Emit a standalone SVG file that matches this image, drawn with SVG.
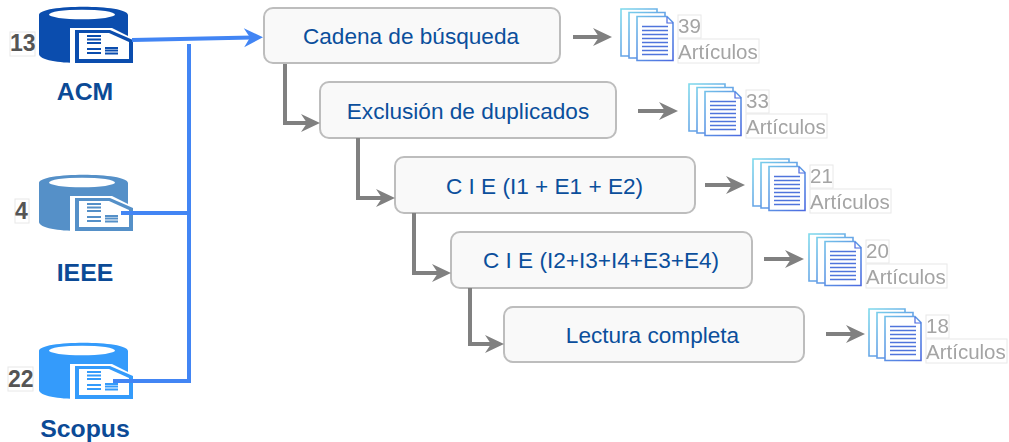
<svg xmlns="http://www.w3.org/2000/svg" width="1009" height="442" viewBox="0 0 1009 442">
<style>
text{font-family:"Liberation Sans",Arial,sans-serif}
.box{fill:#f9f9f9;stroke:#bdbdbd;stroke-width:2}
.lbl{font-size:22.600px;fill:#0b4f9c;text-anchor:middle}
.db{font-size:24.800px;font-weight:bold;fill:#0b4a96;text-anchor:middle}
.num{font-size:23px;font-weight:bold;fill:#555}
.cnt{font-size:20.500px;fill:#a4a4a4;filter:url(#soft)}
.tag{fill:#fff;stroke:#e8e8e8;stroke-width:1}
.blue{fill:none;stroke:#4285f4;stroke-width:4}
.gray{fill:none;stroke:#808080;stroke-width:4}
.sheet{fill:#fff;stroke:url(#sg);stroke-width:1.600}
.rule{stroke:#4f74dc;stroke-width:1.600}
</style>
<defs>
<filter id="soft" x="-5%" y="-5%" width="110%" height="110%"><feGaussianBlur stdDeviation="0.6"/></filter>
<linearGradient id="sg" gradientUnits="userSpaceOnUse" x1="0" y1="0" x2="54" y2="53"><stop offset="0" stop-color="#7fdcec"/><stop offset="1" stop-color="#4a68e0"/></linearGradient>
<marker id="ab" markerUnits="userSpaceOnUse" markerWidth="22" markerHeight="22" refX="9" refY="11" orient="auto"><path d="M1 1.500L20 11L1 20.500L7 11Z" fill="#4285f4"/></marker>
<marker id="ag" markerUnits="userSpaceOnUse" markerWidth="22" markerHeight="22" refX="9" refY="11" orient="auto"><path d="M1 2L20 11L1 20L7 11Z" fill="#808080"/></marker>
<g id="cyl">
<path d="M39 15C39 4 128 4 128 15V60C128 66 90 65 77 63C60 63 39 60 39 54Z" fill="currentColor"/>
<ellipse cx="82" cy="14.500" rx="33" ry="4.800" fill="#fff"/>
<path d="M70 28H112L134 39V65H70Z" fill="#fff"/>
<path d="M75 30H110L133 40V63H75Z" fill="currentColor"/>
<path d="M79 33H109L129 42V59H79Z" fill="#fff"/>
<path d="M87 36H101M87 39.500H101M87 43H101M87 49H101M87 53H101M105 48H118M105 50.500H118M105 53.500H118" stroke="currentColor" stroke-width="1.800" fill="none"/>
</g>
<g id="stack">
<path class="sheet" d="M1 1H37V48H1Z"/>
<path class="sheet" d="M9 4.500H45V50H9Z"/>
<path class="sheet" d="M17 8.500H47L53 14.500V52.500H17Z"/>
<path d="M47 9V15H53" fill="none" stroke="#4a68e0" stroke-width="1.200"/>
<path class="rule" d="M22 18.500H48M22 22.500H48M22 26.500H48M22 30.500H48M22 34.500H48M22 38.500H48M22 42.500H48M22 46.500H48"/>
</g>
</defs>

<g id="db-acm" color="#0b4dae">
<use href="#cyl"/>
<rect class="tag" x="10" y="32" width="25" height="24"/>
<text class="num" x="10" y="51">13</text>
<text class="db" x="85" y="100">ACM</text>
</g>
<g id="db-ieee" color="#5590c8">
<use href="#cyl" y="168"/>
<rect class="tag" x="15" y="199" width="14" height="24"/>
<text class="num" x="15" y="219">4</text>
<text class="db" x="85" y="281">IEEE</text>
</g>
<g id="db-scopus" color="#349bfb">
<use href="#cyl" y="336"/>
<rect class="tag" x="8" y="367" width="25" height="24"/>
<text class="num" x="8" y="387">22</text>
<text class="db" x="85" y="437">Scopus</text>
</g>

<g id="step-1"><rect class="box" x="264" y="8" width="296" height="55" rx="9"/><text class="lbl" x="411" y="44">Cadena de búsqueda</text></g>
<g id="step-2"><rect class="box" x="320" y="82" width="296" height="56" rx="9"/><text class="lbl" x="468" y="119">Exclusión de duplicados</text></g>
<g id="step-3"><rect class="box" x="395" y="157" width="300" height="56" rx="9"/><text class="lbl" x="544.500" y="194">C I E (I1 + E1 + E2)</text></g>
<g id="step-4"><rect class="box" x="451" y="232" width="301" height="56" rx="9"/><text class="lbl" x="601" y="268">C I E (I2+I3+I4+E3+E4)</text></g>
<g id="step-5"><rect class="box" x="504" y="307" width="300" height="55" rx="9"/><text class="lbl" x="652.500" y="343">Lectura completa</text></g>

<g id="result-1"><use href="#stack" x="620" y="8"/><rect class="tag" x="678" y="15" width="23" height="23"/><rect class="tag" x="678" y="39" width="81" height="24"/><text class="cnt" x="678" y="33">39</text><text class="cnt" x="678" y="59">Artículos</text></g>
<g id="result-2"><use href="#stack" x="688" y="83"/><rect class="tag" x="746" y="90" width="23" height="23"/><rect class="tag" x="746" y="114" width="81" height="24"/><text class="cnt" x="746" y="108">33</text><text class="cnt" x="746" y="134">Artículos</text></g>
<g id="result-3"><use href="#stack" x="752" y="158"/><rect class="tag" x="810" y="165" width="23" height="23"/><rect class="tag" x="810" y="189" width="81" height="24"/><text class="cnt" x="810" y="183">21</text><text class="cnt" x="810" y="209">Artículos</text></g>
<g id="result-4"><use href="#stack" x="808" y="233"/><rect class="tag" x="866" y="240" width="23" height="23"/><rect class="tag" x="866" y="264" width="81" height="24"/><text class="cnt" x="866" y="258">20</text><text class="cnt" x="866" y="284">Artículos</text></g>
<g id="result-5"><use href="#stack" x="868" y="308"/><rect class="tag" x="926" y="315" width="23" height="23"/><rect class="tag" x="926" y="339" width="81" height="24"/><text class="cnt" x="926" y="333">18</text><text class="cnt" x="926" y="359">Artículos</text></g>

<g id="connectors">
<path class="blue" d="M132 40L252 37.500" marker-end="url(#ab)"/>
<path class="blue" d="M189 44V381H113"/>
<path class="blue" d="M189 213H121"/>
<path class="gray" d="M285 64V123H309" marker-end="url(#ag)"/>
<path class="gray" d="M358 138V198H384" marker-end="url(#ag)"/>
<path class="gray" d="M414 213V273H440" marker-end="url(#ag)"/>
<path class="gray" d="M470 288V344H493" marker-end="url(#ag)"/>
<path class="gray" d="M573 37H601" marker-end="url(#ag)"/>
<path class="gray" d="M638 111H667" marker-end="url(#ag)"/>
<path class="gray" d="M705 185H734" marker-end="url(#ag)"/>
<path class="gray" d="M764 259H793" marker-end="url(#ag)"/>
<path class="gray" d="M826 334H854" marker-end="url(#ag)"/>
</g>
</svg>
